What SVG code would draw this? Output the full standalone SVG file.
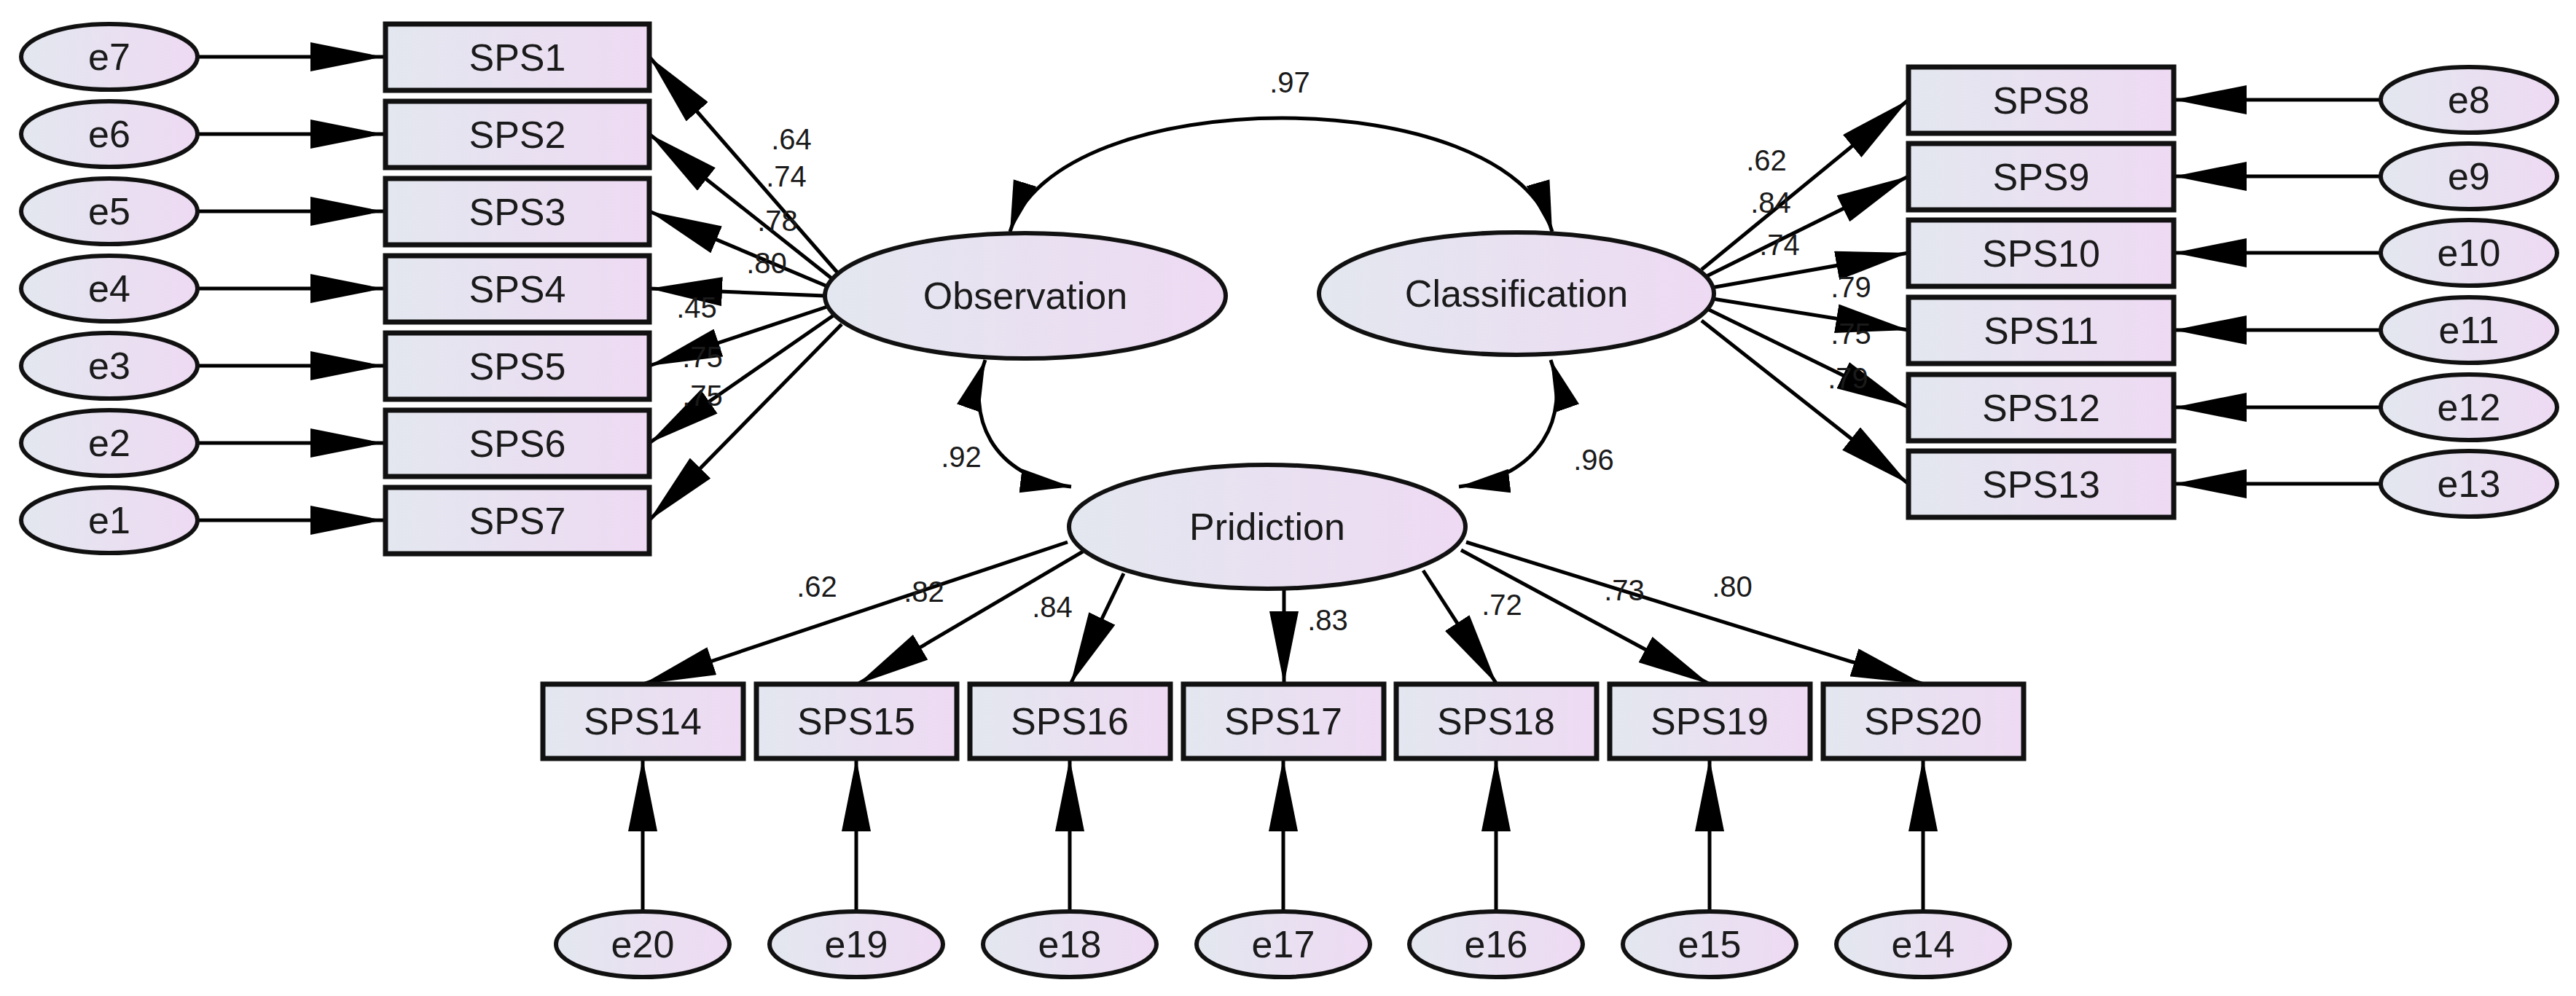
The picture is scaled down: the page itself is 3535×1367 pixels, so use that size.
<svg xmlns="http://www.w3.org/2000/svg" width="3535" height="1367" viewBox="0 0 3535 1367">
<defs>
<linearGradient id="g" x1="0" y1="0" x2="1" y2="0"><stop offset="0" stop-color="#e3e7ef"/><stop offset="1" stop-color="#eedaf3"/></linearGradient>
<marker id="a" markerUnits="userSpaceOnUse" markerWidth="100" markerHeight="40" refX="95" refY="19" orient="auto-start-reverse" viewBox="0 0 95 38"><path d="M0,0 L95,19 L0,38 Z" fill="#000"/></marker>
<marker id="s" markerUnits="userSpaceOnUse" markerWidth="70" markerHeight="34" refX="68" refY="16" orient="auto-start-reverse" viewBox="0 0 68 32"><path d="M0,0 L68,16 L0,32 Z" fill="#000"/></marker>
</defs>
<style>
rect{fill:url(#g);stroke:#111;stroke-width:7}
ellipse{fill:url(#g);stroke:#111;stroke-width:6}
text{font-family:"Liberation Sans",Arial,sans-serif;fill:#1a1a1a;text-anchor:middle}
.n{font-size:52px}
.l{font-size:40px}
.c line,.c path{stroke:#000;stroke-width:5;fill:none;marker-end:url(#a)}
.c path.cv{marker-start:url(#s);marker-end:url(#s)}
</style>
<rect width="3535" height="1367" fill="#fff" style="fill:#fff;stroke:none"/>
<g class="c" id="connectors">
<line x1="272" y1="78" x2="526" y2="78"/><line x1="272" y1="184" x2="526" y2="184"/><line x1="272" y1="290" x2="526" y2="290"/><line x1="272" y1="396" x2="526" y2="396"/><line x1="272" y1="502" x2="526" y2="502"/><line x1="272" y1="608" x2="526" y2="608"/><line x1="272" y1="714" x2="526" y2="714"/>
<line x1="1150" y1="375" x2="891" y2="78"/><line x1="1145" y1="385" x2="891" y2="184"/><line x1="1140" y1="395" x2="891" y2="290"/><line x1="1132" y1="406" x2="891" y2="396"/><line x1="1138" y1="420" x2="891" y2="502"/><line x1="1145" y1="432" x2="891" y2="608"/><line x1="1155" y1="445" x2="891" y2="714"/>
<line x1="3267" y1="137" x2="2983" y2="137"/><line x1="3267" y1="242" x2="2983" y2="242"/><line x1="3267" y1="347" x2="2983" y2="347"/><line x1="3267" y1="453" x2="2983" y2="453"/><line x1="3267" y1="559" x2="2983" y2="559"/><line x1="3267" y1="664" x2="2983" y2="664"/>
<line x1="2335" y1="370" x2="2619" y2="137"/><line x1="2340" y1="380" x2="2619" y2="242"/><line x1="2348" y1="395" x2="2619" y2="347"/><line x1="2350" y1="410" x2="2619" y2="453"/><line x1="2345" y1="425" x2="2619" y2="559"/><line x1="2335" y1="440" x2="2619" y2="664"/>
<line x1="1465" y1="744" x2="882" y2="939"/><line x1="1486" y1="757" x2="1177" y2="939"/><line x1="1542" y1="787" x2="1469" y2="939"/><line x1="1762" y1="808" x2="1762" y2="939"/><line x1="1953" y1="783" x2="2054" y2="939"/><line x1="2005" y1="755" x2="2346" y2="939"/><line x1="2012" y1="744" x2="2640" y2="939"/>
<line x1="882" y1="1251" x2="882" y2="1041"/><line x1="1175" y1="1251" x2="1175" y2="1041"/><line x1="1468" y1="1251" x2="1468" y2="1041"/><line x1="1761" y1="1251" x2="1761" y2="1041"/><line x1="2053" y1="1251" x2="2053" y2="1041"/><line x1="2346" y1="1251" x2="2346" y2="1041"/><line x1="2639" y1="1251" x2="2639" y2="1041"/>
<path class="cv" d="M1386,318 C1450,110 2070,110 2130,318"/>
<path class="cv" d="M1352,494 C1325,570 1360,655 1470,668"/>
<path class="cv" d="M2128,494 C2155,570 2115,655 2002,668"/>
</g>
<g id="labels" class="l">
<text x="1086" y="205">.64</text><text x="1079" y="256">.74</text><text x="1067" y="317">.78</text><text x="1052" y="375">.80</text><text x="956" y="436">.45</text><text x="964" y="504">.75</text><text x="964" y="557">.75</text>
<text x="2424" y="234">.62</text><text x="2430" y="292">.84</text><text x="2442" y="350">.74</text><text x="2540" y="408">.79</text><text x="2540" y="472">.75</text><text x="2536" y="533">.79</text>
<text x="1121" y="819">.62</text><text x="1268" y="826">.82</text><text x="1444" y="847">.84</text><text x="1822" y="865">.83</text><text x="2061" y="844">.72</text><text x="2229" y="824">.73</text><text x="2377" y="819">.80</text>
<text x="1770" y="127">.97</text><text x="1319" y="641">.92</text><text x="2187" y="645">.96</text>
</g>
<g id="Observation"><ellipse cx="1407" cy="406" rx="275" ry="86"/><text class="n" x="1407" y="424">Observation</text></g>
<g id="Classification"><ellipse cx="2081" cy="403" rx="271" ry="84"/><text class="n" x="2081" y="421">Classification</text></g>
<g id="Pridiction"><ellipse cx="1739" cy="723" rx="272" ry="85"/><text class="n" x="1739" y="741">Pridiction</text></g>
<g id="SPS1"><rect x="529" y="33" width="362" height="91"/><text class="n" x="710" y="97">SPS1</text></g>
<g id="SPS2"><rect x="529" y="139" width="362" height="91"/><text class="n" x="710" y="203">SPS2</text></g>
<g id="SPS3"><rect x="529" y="245" width="362" height="91"/><text class="n" x="710" y="309">SPS3</text></g>
<g id="SPS4"><rect x="529" y="351" width="362" height="91"/><text class="n" x="710" y="415">SPS4</text></g>
<g id="SPS5"><rect x="529" y="457" width="362" height="91"/><text class="n" x="710" y="521">SPS5</text></g>
<g id="SPS6"><rect x="529" y="563" width="362" height="91"/><text class="n" x="710" y="627">SPS6</text></g>
<g id="SPS7"><rect x="529" y="669" width="362" height="91"/><text class="n" x="710" y="733">SPS7</text></g>
<g id="e7"><ellipse cx="150" cy="78" rx="121" ry="45"/><text class="n" x="150" y="96">e7</text></g>
<g id="e6"><ellipse cx="150" cy="184" rx="121" ry="45"/><text class="n" x="150" y="202">e6</text></g>
<g id="e5"><ellipse cx="150" cy="290" rx="121" ry="45"/><text class="n" x="150" y="308">e5</text></g>
<g id="e4"><ellipse cx="150" cy="396" rx="121" ry="45"/><text class="n" x="150" y="414">e4</text></g>
<g id="e3"><ellipse cx="150" cy="502" rx="121" ry="45"/><text class="n" x="150" y="520">e3</text></g>
<g id="e2"><ellipse cx="150" cy="608" rx="121" ry="45"/><text class="n" x="150" y="626">e2</text></g>
<g id="e1"><ellipse cx="150" cy="714" rx="121" ry="45"/><text class="n" x="150" y="732">e1</text></g>
<g id="SPS8"><rect x="2619" y="92" width="364" height="91"/><text class="n" x="2801" y="156">SPS8</text></g>
<g id="SPS9"><rect x="2619" y="197" width="364" height="91"/><text class="n" x="2801" y="261">SPS9</text></g>
<g id="SPS10"><rect x="2619" y="302" width="364" height="91"/><text class="n" x="2801" y="366">SPS10</text></g>
<g id="SPS11"><rect x="2619" y="408" width="364" height="91"/><text class="n" x="2801" y="472">SPS11</text></g>
<g id="SPS12"><rect x="2619" y="514" width="364" height="91"/><text class="n" x="2801" y="578">SPS12</text></g>
<g id="SPS13"><rect x="2619" y="619" width="364" height="91"/><text class="n" x="2801" y="683">SPS13</text></g>
<g id="e8"><ellipse cx="3388" cy="137" rx="121" ry="45"/><text class="n" x="3388" y="155">e8</text></g>
<g id="e9"><ellipse cx="3388" cy="242" rx="121" ry="45"/><text class="n" x="3388" y="260">e9</text></g>
<g id="e10"><ellipse cx="3388" cy="347" rx="121" ry="45"/><text class="n" x="3388" y="365">e10</text></g>
<g id="e11"><ellipse cx="3388" cy="453" rx="121" ry="45"/><text class="n" x="3388" y="471">e11</text></g>
<g id="e12"><ellipse cx="3388" cy="559" rx="121" ry="45"/><text class="n" x="3388" y="577">e12</text></g>
<g id="e13"><ellipse cx="3388" cy="664" rx="121" ry="45"/><text class="n" x="3388" y="682">e13</text></g>
<g id="SPS14"><rect x="745" y="939" width="275" height="102"/><text class="n" x="882" y="1008">SPS14</text></g>
<g id="SPS15"><rect x="1038" y="939" width="275" height="102"/><text class="n" x="1175" y="1008">SPS15</text></g>
<g id="SPS16"><rect x="1331" y="939" width="275" height="102"/><text class="n" x="1468" y="1008">SPS16</text></g>
<g id="SPS17"><rect x="1624" y="939" width="275" height="102"/><text class="n" x="1761" y="1008">SPS17</text></g>
<g id="SPS18"><rect x="1916" y="939" width="275" height="102"/><text class="n" x="2053" y="1008">SPS18</text></g>
<g id="SPS19"><rect x="2209" y="939" width="275" height="102"/><text class="n" x="2346" y="1008">SPS19</text></g>
<g id="SPS20"><rect x="2502" y="939" width="275" height="102"/><text class="n" x="2639" y="1008">SPS20</text></g>
<g id="e20"><ellipse cx="882" cy="1296" rx="119" ry="45"/><text class="n" x="882" y="1314">e20</text></g>
<g id="e19"><ellipse cx="1175" cy="1296" rx="119" ry="45"/><text class="n" x="1175" y="1314">e19</text></g>
<g id="e18"><ellipse cx="1468" cy="1296" rx="119" ry="45"/><text class="n" x="1468" y="1314">e18</text></g>
<g id="e17"><ellipse cx="1761" cy="1296" rx="119" ry="45"/><text class="n" x="1761" y="1314">e17</text></g>
<g id="e16"><ellipse cx="2053" cy="1296" rx="119" ry="45"/><text class="n" x="2053" y="1314">e16</text></g>
<g id="e15"><ellipse cx="2346" cy="1296" rx="119" ry="45"/><text class="n" x="2346" y="1314">e15</text></g>
<g id="e14"><ellipse cx="2639" cy="1296" rx="119" ry="45"/><text class="n" x="2639" y="1314">e14</text></g>
</svg>
